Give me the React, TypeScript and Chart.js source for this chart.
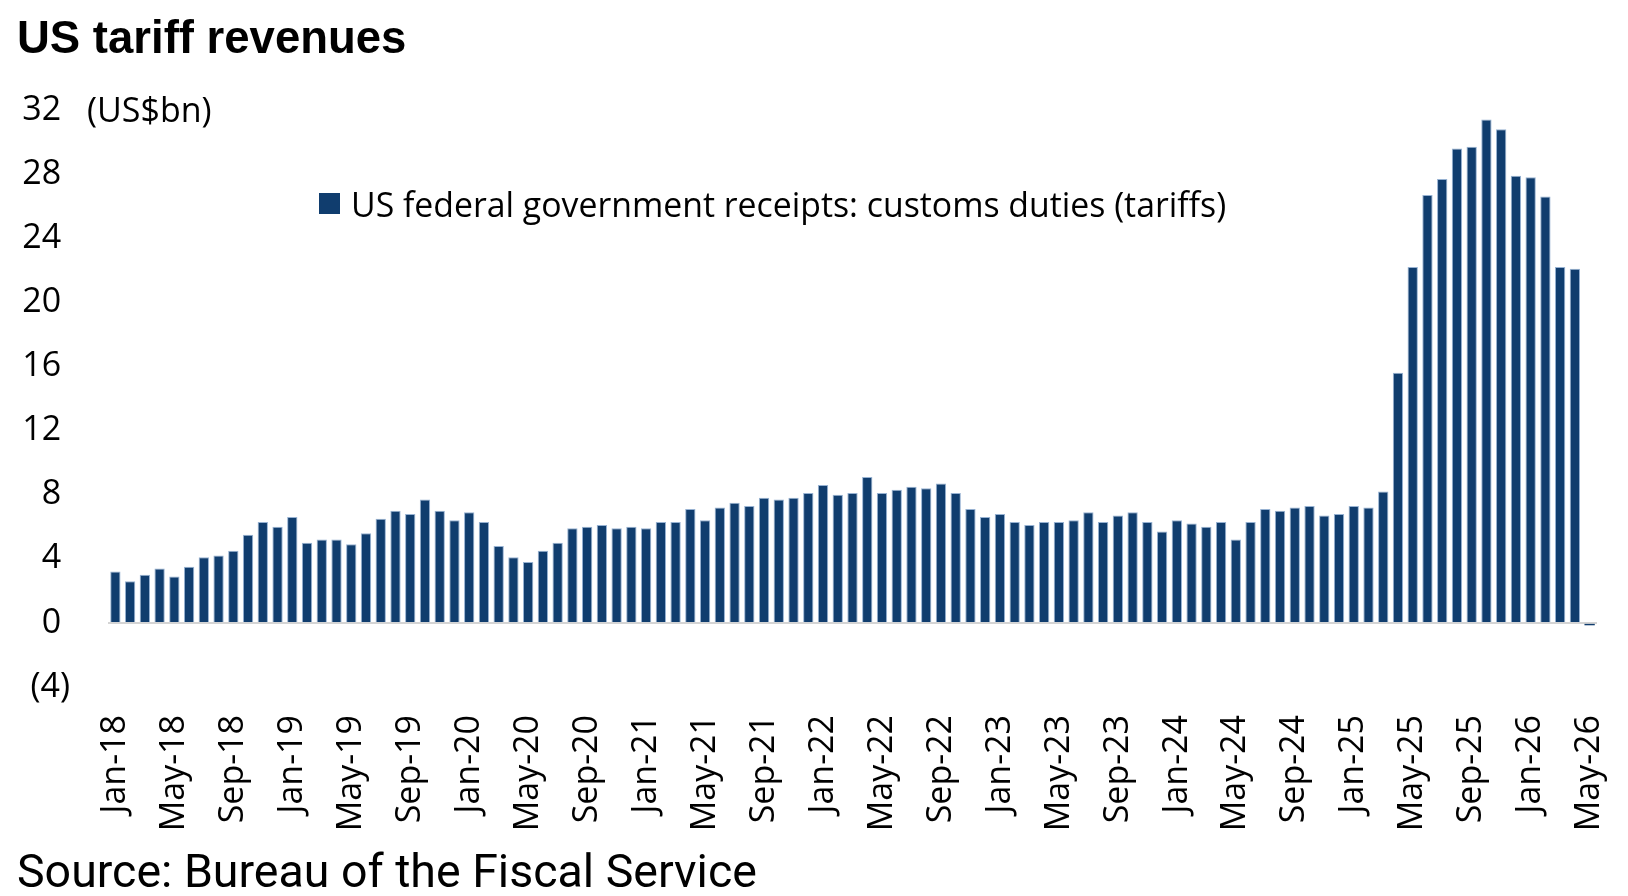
import React, { useEffect, useRef } from 'react';
import { Chart, registerables } from 'chart.js';

Chart.register(...registerables);

// monthly customs duties, US$bn
const values2018 = [3.2, 2.6, 3.0, 3.4, 2.9, 3.5, 4.1, 4.2, 4.5, 5.5, 6.3, 6.0];
const values2019 = [6.6, 5.0, 5.2, 5.2, 4.9, 5.6, 6.5, 7.0, 6.8, 7.7, 7.0, 6.4];
const values2020 = [6.9, 6.3, 4.8, 4.1, 3.8, 4.5, 5.0, 5.9, 6.0, 6.1, 5.9, 6.0];
const values2021 = [5.9, 6.3, 6.3, 7.1, 6.4, 7.2, 7.5, 7.3, 7.8, 7.7, 7.8, 8.1];
const values2022 = [8.6, 8.0, 8.1, 9.1, 8.1, 8.3, 8.5, 8.4, 8.7, 8.1, 7.1, 6.6];
const values2023 = [6.8, 6.3, 6.1, 6.3, 6.3, 6.4, 6.9, 6.3, 6.7, 6.9, 6.3, 5.7];
const values2024 = [6.4, 6.2, 6.0, 6.3, 5.2, 6.3, 7.1, 7.0, 7.2, 7.3, 6.7, 6.8];
const values2025 = [7.3, 7.2, 8.2, 15.6, 22.2, 26.7, 27.7, 29.6, 29.7, 31.4, 30.8, 27.9];
const values2026 = [27.8, 26.6, 22.2, 22.1, -0.15];

const customsDuties = [
  ...values2018, ...values2019, ...values2020, ...values2021, ...values2022,
  ...values2023, ...values2024, ...values2025, ...values2026,
];

const monthNames = ['Jan', 'Feb', 'Mar', 'Apr', 'May', 'Jun', 'Jul', 'Aug', 'Sep', 'Oct', 'Nov', 'Dec'];
const years = ['18', '19', '20', '21', '22', '23', '24', '25', '26'];

const categories: string[] = [];
years.forEach((yr) => monthNames.forEach((m) => categories.push(`${m}-${yr}`)));
categories.length = customsDuties.length;

// every fourth month is labelled
const shownTicks = [
  'Jan-18', 'May-18', 'Sep-18', 'Jan-19', 'May-19', 'Sep-19', 'Jan-20', 'May-20', 'Sep-20',
  'Jan-21', 'May-21', 'Sep-21', 'Jan-22', 'May-22', 'Sep-22', 'Jan-23', 'May-23', 'Sep-23',
  'Jan-24', 'May-24', 'Sep-24', 'Jan-25', 'May-25', 'Sep-25', 'Jan-26', 'May-26',
];

const BAR = '#103d6e';
const FONT = "'Open Sans', 'Noto Sans', sans-serif";

const TariffChart: React.FC = () => {
  const canvasRef = useRef<HTMLCanvasElement | null>(null);
  const chartRef = useRef<Chart | null>(null);

  useEffect(() => {
    if (!canvasRef.current) return;
    if (chartRef.current) chartRef.current.destroy();

    chartRef.current = new Chart(canvasRef.current, {
      type: 'bar',
      data: {
        labels: categories,
        datasets: [
          {
            label: 'US federal government receipts: customs duties (tariffs)',
            data: customsDuties,
            backgroundColor: BAR,
            borderColor: 'rgba(140,170,205,0.9)',
            // tiny bars would be all outline
            borderWidth: (ctx: any) => (Math.abs(Number(ctx.raw)) < 1 ? 0 : 1),
            barPercentage: 0.7,
            categoryPercentage: 1,
          },
        ],
      },
      options: {
        animation: false,
        responsive: true,
        maintainAspectRatio: false,
        layout: { padding: { top: 110, bottom: 59, left: 0, right: 31 } },
        plugins: { legend: { display: false }, tooltip: { enabled: false } },
        scales: {
          x: {
            grid: { display: false, drawTicks: false },
            border: { display: false },
            ticks: {
              autoSkip: false,
              maxRotation: 90,
              minRotation: 90,
              padding: 28,
              color: '#000',
              font: { family: FONT, size: 34 },
              callback: (_v, i) => (shownTicks.includes(categories[i]) ? categories[i] : null),
            },
            afterFit: (scale) => {
              scale.height = 150;
              // let the layout padding alone decide the plot edges
              scale.paddingLeft = 0;
              scale.paddingRight = 0;
            },
          },
          y: {
            min: -4,
            max: 32,
            grid: {
              drawTicks: false,
              color: (ctx) => (ctx.tick && ctx.tick.value === 0 ? '#d4d4d4' : 'transparent'),
              lineWidth: 2,
            },
            border: { display: false },
            ticks: {
              stepSize: 4,
              padding: 38,
              color: '#000',
              font: { family: FONT, size: 34 },
              // positives keep a trailing space where the ")" would sit
              callback: (v) => (Number(v) < 0 ? `(${Math.abs(Number(v))})` : `${v} `),
            },
            afterFit: (scale) => {
              scale.width = 108;
            },
          },
        },
      },
    });

    return () => {
      if (chartRef.current) {
        chartRef.current.destroy();
        chartRef.current = null;
      }
    };
  }, []);

  return <canvas ref={canvasRef}></canvas>;
};

const App: React.FC = () => {
  return (
    <div
      style={{
        position: 'fixed',
        left: 0,
        top: 0,
        width: 1628,
        height: 896,
        background: '#fff',
        overflow: 'hidden',
        color: '#000',
      }}
    >
      <div style={{ position: 'absolute', left: 0, top: 0, width: 1628, height: 896 }}>
        <TariffChart />
      </div>
      <div
        style={{
          position: 'absolute',
          left: 17,
          top: 12,
          fontFamily: "'Liberation Sans', Arial, sans-serif",
          fontWeight: 700,
          fontSize: 45.5,
          lineHeight: '52px',
          whiteSpace: 'nowrap',
        }}
      >
        US tariff revenues
      </div>
      <div
        style={{
          position: 'absolute',
          left: 87,
          top: 86,
          fontFamily: FONT,
          fontSize: 34,
          lineHeight: '46px',
          whiteSpace: 'nowrap',
        }}
      >
        (US$bn)
      </div>
      <div style={{ position: 'absolute', left: 319, top: 193, width: 21, height: 21, background: BAR }} />
      <div
        style={{
          position: 'absolute',
          left: 351,
          top: 181,
          fontFamily: FONT,
          fontSize: 33.8,
          lineHeight: '46px',
          whiteSpace: 'nowrap',
        }}
      >
        US federal government receipts: customs duties (tariffs)
      </div>
      <div
        style={{
          position: 'absolute',
          left: 17,
          top: 845,
          fontFamily: "Roboto, 'Noto Sans', sans-serif",
          fontSize: 46.5,
          lineHeight: '52px',
          whiteSpace: 'nowrap',
        }}
      >
        Source: Bureau of the Fiscal Service
      </div>
    </div>
  );
};

export default App;
